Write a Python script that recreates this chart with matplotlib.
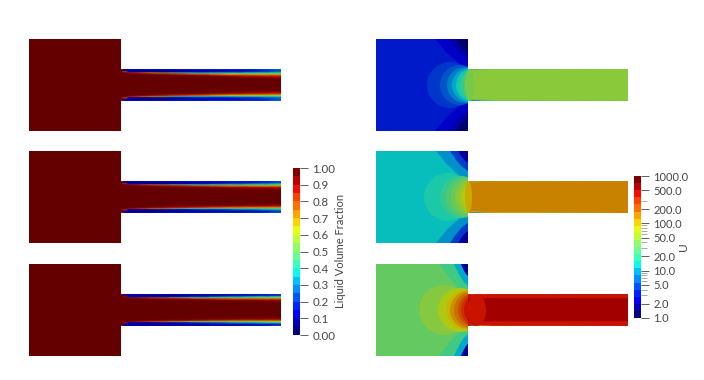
import numpy as np
import matplotlib
matplotlib.use("Agg")
import matplotlib.pyplot as plt
from matplotlib.cm import ScalarMappable
from matplotlib.colors import ListedColormap, LogNorm, Normalize
from matplotlib.patches import Ellipse, Polygon, Rectangle

plt.rcParams['font.family'] = ['Lato', 'DejaVu Sans']

W, H = 704, 380

# liquid fraction in the channel, columns = stations, rows = distance from wall
lvf_x = [92, 96, 100, 120, 160, 200, 230, 252]
lvf_d = [0, 1.5, 3, 4.2, 5.2, 6.5, 8, 10, 16]
lvf_top = [
    [.9, .10, .15, .15, .18, .20, .22, .30],
    [1., .05, .03, .04, .07, .10, .14, .22],
    [1., .80, .10, .05, .10, .15, .20, .28],
    [1., 1., .90, .75, .35, .35, .38, .42],
    [1., 1., 1., .95, .80, .65, .60, .60],
    [1., 1., 1., 1., .95, .85, .80, .78],
    [1., 1., 1., 1., 1., .97, .92, .90],
    [1., 1., 1., 1., 1., 1., 1., .99],
    [1., 1., 1., 1., 1., 1., 1., 1.],
]
lvf_mid = [
    [.9, .10, .12, .14, .16, .18, .20, .28],
    [1., .05, .03, .03, .06, .08, .11, .18],
    [1., .85, .10, .06, .12, .20, .28, .36],
    [1., 1., .92, .80, .45, .45, .48, .52],
    [1., 1., 1., .97, .88, .75, .72, .72],
    [1., 1., 1., 1., .97, .92, .90, .88],
    [1., 1., 1., 1., 1., .99, .97, .96],
    [1., 1., 1., 1., 1., 1., 1., 1.],
    [1., 1., 1., 1., 1., 1., 1., 1.],
]
lvf_bot = [
    [.9, .10, .12, .13, .14, .16, .18, .24],
    [1., .05, .03, .03, .05, .07, .10, .15],
    [1., .90, .12, .08, .16, .28, .36, .42],
    [1., 1., .95, .85, .55, .55, .58, .62],
    [1., 1., 1., .98, .92, .82, .80, .80],
    [1., 1., 1., 1., .99, .96, .94, .93],
    [1., 1., 1., 1., 1., 1., .99, .98],
    [1., 1., 1., 1., 1., 1., 1., 1.],
    [1., 1., 1., 1., 1., 1., 1., 1.],
]
lvf_fields = [lvf_top, lvf_mid, lvf_bot]

# velocity in the channel
u_x = [92, 96, 105, 115, 252]
u_d = [0, 1, 2, 4, 5, 16]
u_top = [
    [48, 4, 10, 30, 48],
    [48, 30, 45, 48, 48],
    [48, 48, 48, 48, 48],
    [48, 48, 48, 48, 48],
    [48, 48, 48, 48, 48],
    [48, 48, 48, 48, 48],
]
u_mid = [
    [160, 5, 20, 80, 160],
    [160, 90, 150, 160, 160],
    [160, 160, 160, 160, 160],
    [160, 160, 160, 160, 160],
    [160, 160, 160, 160, 160],
    [160, 160, 160, 160, 160],
]
u_bot = [
    [450, 8, 100, 300, 450],
    [450, 300, 450, 450, 450],
    [450, 450, 450, 450, 450],
    [450, 450, 450, 450, 450],
    [620, 620, 620, 620, 620],
    [620, 620, 620, 620, 620],
]
u_fields = [u_top, u_mid, u_bot]

# block background value of each run
u_base = [3.0, 12, 32]

# circular bands in front of the inlet
band_left = [
    [51, 64, 71, 76, 80, 84, 88],
    [48, 64, 70, 75, 79, 83, 86, 89],
    [43, 62, 70, 74, 78, 82, 85, 88],
]
band_r = [
    [23, 20, 18, 17, 16.5, 16, 16],
    [24, 21, 20, 19, 18, 17, 16.5, 16],
    [25, 22, 20, 19, 18, 17, 16.5, 16],
]
band_u = [
    [3.8, 5, 7, 10, 14, 20, 30],
    [15, 20, 27, 35, 45, 60, 80, 110],
    [45, 70, 100, 140, 190, 260, 340, 450],
]

# lens at the inlet mouth: left, right, value
core_left = [89, 89, 91]
core_right = [98, 96, 110]
core_u = [40, 110, 450]

# corner lobes on the block's outlet wall
lobe_a = [[33, 20, 12], [32, 18, 10], [29, 14, 7]]
lobe_b = [[29, 20, 14], [29, 20, 12], [29, 22, 12]]
lobe_u = [[2.3, 1.7, 1.1], [8, 4, 1.5], [22, 10, 1.5]]
lobe_fx = [1, .64, .3, 0]
lobe_fy = [0, .48, .82, 1]

lvf_ticks = [0, .1, .2, .3, .4, .5, .6, .7, .8, .9, 1]
lvf_labels = ['0.00', '0.1', '0.2', '0.3', '0.4', '0.5', '0.6', '0.7', '0.8', '0.9', '1.00']
u_ticks = [1, 2, 5, 10, 20, 50, 100, 200, 500, 1000]
u_minor = [3, 4, 6, 7, 8, 9, 30, 40, 60, 70, 80, 90, 300]

# jet, surfaces are dimmed by the renderer's lighting
bar_cmap = ListedColormap(plt.get_cmap('jet')(np.linspace(0, 1, 20)))
surf_colors = plt.get_cmap('jet')(np.linspace(0, 1, 256))
surf_colors[:, :3] = surf_colors[:, :3] * 0.79
surf_cmap = ListedColormap(surf_colors)
u_norm = LogNorm(1, 1000)


def add_px_axes(fig, x, y, w, h):
    return fig.add_axes([x / W, 1 - (y + h) / H, w / W, h / H])


def draw_channel(ax, xs, ds, field, vmin, vmax):
    field = np.array(field, dtype=float)
    d = np.array(ds, dtype=float)
    y = np.concatenate([16 - d, (d - 16)[::-1][1:]])
    z = np.vstack([field, field[::-1][1:]])
    mesh = ax.pcolormesh(xs, y, z, shading='gouraud', cmap=surf_cmap, vmin=vmin, vmax=vmax)
    # gouraud triangles wobble along the walls, cut them straight
    mesh.set_clip_path(Rectangle((xs[0], -16), xs[-1] - xs[0], 32, transform=ax.transData))


fig = plt.figure(figsize=(W / 100, H / 100), dpi=100)
tops = [39, 151, 264]

for i in range(3):
    ax = add_px_axes(fig, 29, tops[i], 252, 92)
    ax.set_xlim(0, 252)
    ax.set_ylim(-46, 46)
    ax.axis('off')
    ax.add_patch(Rectangle((0, -46), 92, 92, color=surf_cmap(0.999), lw=0))
    draw_channel(ax, lvf_x, lvf_d, lvf_fields[i], 0, 1)

    ax = add_px_axes(fig, 376, tops[i], 251, 92)
    ax.set_xlim(0, 251)
    ax.set_ylim(-46, 46)
    ax.axis('off')
    draw_channel(ax, u_x, u_d, np.log10(u_fields[i]), 0, 3)
    block = Rectangle((0, -46), 92, 92, color=surf_cmap(u_norm(u_base[i])), lw=0)
    ax.add_patch(block)
    for a, b, u in zip(lobe_a[i], lobe_b[i], lobe_u[i]):
        for s in [1, -1]:
            pts = [(92, s * 46)]
            for fx, fy in zip(lobe_fx, lobe_fy):
                pts.append((92 - a * fx, s * (46 - b * fy)))
            ax.add_patch(Polygon(pts, closed=True, color=surf_cmap(u_norm(u)), lw=0))
    for left, r, u in zip(band_left[i], band_r[i], band_u[i]):
        c = Ellipse((left + r, 0), 2 * r, 2 * r, color=surf_cmap(u_norm(u)), lw=0)
        ax.add_patch(c)
        c.set_clip_path(block)
    ax.add_patch(Ellipse(((core_left[i] + core_right[i]) / 2, 0), core_right[i] - core_left[i], 32,
                         color=surf_cmap(u_norm(core_u[i])), lw=0))

text_col = '#444444'

cax = add_px_axes(fig, 293, 168, 7, 167)
cb = fig.colorbar(ScalarMappable(Normalize(0, 1), bar_cmap), cax=cax)
cb.outline.set_visible(False)
cb.set_ticks(lvf_ticks, labels=lvf_labels)
cb.ax.tick_params(length=6, width=0.6, color=text_col, labelcolor=text_col, labelsize=8.3, pad=3)
fig.text(340 / W, 1 - 251 / H, 'Liquid Volume Fraction', rotation=90, ha='center', va='center',
         fontsize=8, color=text_col)

cax = add_px_axes(fig, 634, 176, 7, 142)
cb = fig.colorbar(ScalarMappable(u_norm, bar_cmap), cax=cax)
cb.outline.set_visible(False)
cb.set_ticks(u_ticks, labels=['%.1f' % t for t in u_ticks])
cb.ax.yaxis.set_ticks(u_minor, minor=True)
cb.ax.yaxis.set_minor_formatter(plt.NullFormatter())
cb.ax.tick_params(which='major', length=6, width=0.6, color=text_col, labelcolor=text_col, labelsize=8, pad=3)
cb.ax.tick_params(which='minor', length=4, width=0.5, color='#888888')
fig.text(684 / W, 1 - 247 / H, 'U', rotation=90, ha='center', va='center', fontsize=8.6, color=text_col)

fig.savefig('out.png', dpi=100)
